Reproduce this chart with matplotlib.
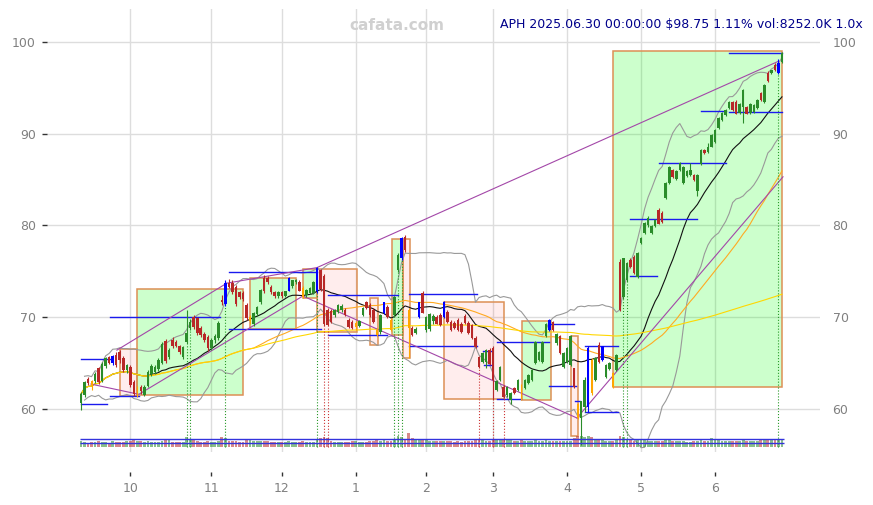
import numpy as np
import pandas as pd
import matplotlib
matplotlib.use("Agg")
import matplotlib.pyplot as plt
from matplotlib.patches import Rectangle

# ---------------- data ----------------
TICKER = "APH"
START, END = "2024-09-11", "2025-06-30"
HOLIDAYS = ["2024-11-28", "2024-12-25", "2025-01-01", "2025-01-09", "2025-01-20",
            "2025-02-17", "2025-04-18", "2025-05-26", "2025-06-19"]

opens = [
    60.6, 61.5, 63.2, 63.0, 63.0, 64.4, 63.0, 64.7, 65.6, 65.0,
    65.9, 66.2, 65.5, 64.2, 64.6, 62.9, 61.7, 62.4, 61.5, 62.5,
    63.8, 64.0, 64.3, 65.0, 67.4, 65.6, 67.5, 67.3, 66.8, 65.6,
    67.3, 68.8, 70.0, 69.9, 68.8, 68.2, 67.8, 66.6, 67.5, 67.7,
    71.9, 71.4, 73.7, 73.7, 73.3, 72.7, 72.6, 71.3, 69.6, 69.2,
    70.3, 71.6, 74.3, 74.3, 73.3, 72.7, 72.3, 72.7, 72.3, 72.9,
    73.4, 73.8, 73.8, 73.2, 72.4, 72.6, 72.6, 72.8, 75.1, 74.5,
    70.8, 70.7, 70.2, 70.6, 70.8, 70.8, 69.7, 69.5, 68.9, 69.0,
    70.2, 71.6, 71.3, 70.8, 68.6, 68.4, 70.4, 71.1, 69.7, 70.2,
    75.1, 76.4, 78.7, 70.8, 68.8, 68.3, 70.0, 72.6, 68.6, 68.7,
    69.6, 70.0, 70.2, 70.0, 70.6, 69.5, 69.4, 69.7, 69.3, 70.1,
    69.4, 69.1, 67.7, 65.6, 65.1, 65.1, 66.4, 66.6, 62.1, 63.1,
    62.4, 61.5, 61.0, 62.3, 62.0, 62.5, 62.3, 62.8, 63.1, 65.0,
    65.3, 65.1, 67.9, 68.6, 69.5, 67.2, 67.9, 64.6, 65.1, 64.8,
    64.4, 60.5, 59.0, 60.2, 60.2, 65.3, 63.1, 67.0, 65.3, 63.5,
    64.3, 63.9, 64.2, 76.0, 72.2, 74.0, 76.2, 76.6, 74.4, 78.1,
    79.2, 80.0, 79.2, 79.9, 81.7, 81.4, 83.0, 84.6, 86.0, 85.1,
    86.0, 84.6, 85.4, 85.5, 85.5, 83.7, 86.7, 88.2, 88.0, 88.6,
    89.1, 90.6, 91.5, 92.0, 92.8, 93.5, 93.5, 92.3, 92.9, 92.9,
    92.3, 92.4, 92.8, 94.4, 93.5, 96.6, 96.6, 97.5, 96.6, 97.85,
]
highs = [
    61.8, 63.0, 63.5, 63.1, 64.0, 64.6, 65.1, 65.7, 65.8, 65.9,
    66.2, 66.4, 65.8, 64.9, 64.8, 63.1, 62.5, 62.6, 62.6, 64.2,
    64.9, 64.8, 65.5, 67.3, 67.6, 66.6, 67.8, 67.5, 67.0, 66.9,
    70.8, 69.8, 70.2, 70.0, 69.0, 68.4, 68.0, 67.7, 68.2, 69.6,
    72.4, 74.0, 74.2, 74.0, 73.5, 72.9, 72.8, 71.5, 70.2, 70.6,
    71.2, 73.1, 74.6, 74.5, 73.5, 72.9, 72.9, 72.9, 72.9, 74.4,
    74.1, 74.2, 74.0, 73.4, 73.1, 73.3, 73.9, 75.5, 75.3, 74.7,
    71.0, 70.9, 70.9, 71.4, 71.4, 71.0, 69.9, 69.7, 69.6, 69.7,
    71.1, 71.8, 71.5, 71.0, 68.8, 70.3, 71.7, 71.3, 69.9, 72.3,
    77.0, 78.7, 78.9, 71.0, 69.0, 68.9, 71.7, 72.8, 70.1, 70.4,
    70.3, 70.2, 70.4, 71.8, 70.8, 69.7, 69.6, 69.9, 69.5, 70.3,
    69.6, 69.3, 67.9, 65.8, 66.2, 66.5, 66.6, 66.8, 63.1, 64.7,
    62.6, 62.5, 61.8, 62.4, 63.2, 62.7, 63.2, 63.8, 64.3, 67.4,
    66.3, 67.4, 69.4, 69.8, 69.6, 68.3, 68.0, 66.2, 66.7, 68.0,
    64.5, 60.6, 60.9, 63.5, 66.9, 65.5, 65.6, 67.3, 66.9, 64.9,
    65.1, 64.0, 66.0, 76.3, 76.5, 76.0, 76.4, 76.8, 77.1, 78.7,
    80.4, 81.0, 80.0, 80.7, 81.9, 81.6, 84.7, 86.5, 86.2, 86.0,
    86.9, 86.5, 86.0, 86.8, 85.6, 85.6, 88.3, 88.3, 89.0, 90.0,
    90.5, 91.8, 92.4, 92.7, 93.6, 93.6, 93.7, 93.3, 94.9, 93.0,
    93.4, 93.2, 93.8, 94.5, 95.4, 96.8, 97.0, 97.7, 98.1, 98.9,
]
lows = [
    59.9, 61.3, 62.6, 62.1, 62.8, 62.7, 62.9, 64.5, 64.9, 64.8,
    64.6, 65.0, 64.0, 63.9, 62.4, 61.4, 61.3, 61.6, 61.4, 62.4,
    63.6, 63.8, 64.1, 64.9, 65.0, 65.4, 66.6, 66.7, 66.0, 65.4,
    67.1, 68.6, 68.7, 68.1, 67.8, 67.3, 66.3, 66.4, 67.2, 67.5,
    71.3, 71.2, 73.2, 72.5, 71.2, 72.0, 71.8, 69.7, 69.2, 69.0,
    70.1, 71.4, 72.6, 73.6, 72.5, 72.1, 72.1, 72.1, 72.2, 72.8,
    73.2, 73.6, 72.8, 72.1, 72.2, 72.5, 72.5, 72.6, 72.9, 69.0,
    69.0, 69.4, 70.0, 70.4, 70.6, 70.1, 68.8, 68.7, 68.6, 68.9,
    70.1, 70.9, 70.0, 69.4, 67.9, 68.2, 70.3, 69.9, 68.5, 70.0,
    74.9, 76.2, 77.1, 65.5, 67.9, 68.2, 69.9, 70.4, 68.4, 68.5,
    69.3, 69.2, 69.0, 69.9, 69.4, 68.5, 68.7, 68.5, 68.3, 69.3,
    68.2, 67.6, 66.6, 64.5, 65.0, 64.4, 64.8, 61.0, 61.9, 63.0,
    61.2, 61.3, 60.5, 61.6, 61.9, 61.0, 62.2, 62.7, 63.0, 64.9,
    65.2, 65.0, 67.8, 68.5, 68.5, 67.0, 66.0, 64.5, 65.0, 64.7,
    62.3, 58.9, 56.0, 59.7, 59.6, 61.5, 63.0, 65.0, 65.2, 63.4,
    64.2, 62.3, 64.1, 70.7, 72.0, 73.8, 75.4, 74.7, 74.3, 78.0,
    79.1, 79.8, 79.1, 79.8, 80.1, 80.3, 82.9, 84.5, 85.2, 85.0,
    85.9, 84.5, 85.3, 85.4, 84.8, 83.2, 86.6, 87.8, 87.9, 88.5,
    89.0, 90.5, 91.4, 91.9, 92.7, 92.5, 92.1, 92.2, 91.2, 92.1,
    92.2, 92.3, 92.7, 93.6, 93.4, 95.6, 96.5, 96.8, 96.5, 97.7,
]
closes = [
    61.6, 62.9, 62.8, 62.6, 63.8, 62.9, 64.9, 65.5, 65.0, 65.8,
    64.8, 65.3, 64.2, 64.8, 62.6, 61.6, 62.4, 61.9, 62.4, 64.0,
    64.7, 64.6, 65.3, 67.1, 65.2, 66.4, 66.8, 66.9, 66.2, 66.7,
    68.3, 69.5, 68.9, 68.3, 68.0, 67.5, 66.6, 67.5, 67.9, 69.4,
    71.6, 73.7, 73.3, 72.7, 71.4, 72.2, 72.0, 69.9, 70.0, 70.5,
    71.1, 73.0, 72.8, 73.8, 72.7, 72.3, 72.7, 72.3, 72.8, 74.3,
    74.0, 74.0, 72.9, 72.2, 73.0, 73.2, 73.8, 75.4, 73.1, 69.2,
    69.1, 69.5, 70.8, 71.3, 71.2, 70.2, 68.9, 68.8, 69.4, 69.6,
    71.0, 71.0, 70.2, 69.5, 68.0, 70.2, 71.6, 70.0, 68.6, 72.2,
    76.8, 78.6, 77.3, 68.8, 68.0, 68.7, 71.6, 70.5, 70.0, 70.3,
    70.1, 69.3, 69.1, 71.7, 69.5, 68.6, 68.8, 68.6, 68.4, 69.4,
    68.3, 67.7, 66.7, 64.6, 66.1, 66.4, 64.9, 63.1, 63.0, 64.6,
    61.3, 62.4, 61.7, 61.7, 63.1, 61.2, 63.1, 63.7, 64.2, 67.3,
    66.2, 67.3, 69.3, 69.7, 68.6, 68.2, 66.1, 66.1, 66.6, 67.9,
    62.4, 59.0, 60.8, 63.1, 66.6, 61.7, 65.5, 65.1, 66.8, 64.8,
    65.0, 62.4, 65.9, 70.8, 76.4, 75.9, 75.5, 74.8, 77.0, 78.6,
    80.3, 80.8, 79.9, 80.6, 80.2, 80.4, 84.6, 86.4, 85.3, 85.9,
    86.8, 86.4, 85.9, 86.0, 84.9, 85.5, 88.2, 87.9, 88.6, 89.9,
    90.4, 91.7, 92.3, 92.6, 93.5, 92.6, 92.2, 93.2, 94.8, 92.2,
    93.2, 93.1, 93.7, 93.7, 95.3, 95.7, 96.9, 96.9, 97.67, 98.75,
]
volumes_k = [
    7200, 6100, 5200, 5400, 5800, 6500, 5600, 5900, 5000, 6800,
    6300, 5900, 6100, 6700, 7400, 8300, 7600, 6900, 6200, 6800,
    5900, 5400, 6000, 6600, 9800, 7700, 6400, 5600, 5900, 6300,
    11200, 9600, 7700, 6800, 6200, 6400, 6900, 6000, 5700, 6600,
    11400, 10200, 7500, 6700, 7200, 6300, 6100, 7900, 8200, 7000,
    6500, 6900, 7600, 6800, 6200, 5700, 5500, 5600, 5300, 6900,
    6000, 5400, 6100, 6600, 5800, 5400, 5900, 9600, 10800, 11600,
    10200, 7400, 6100, 5900, 5400, 5600, 6400, 6700, 6900, 5800,
    6300, 6200, 6800, 7100, 8000, 7300, 7800, 6900, 7400, 9900,
    12500, 11200, 9700, 16000, 10800, 8200, 8600, 8800, 7700, 7300,
    7000, 6800, 6600, 7500, 6900, 7100, 6400, 6600, 6300, 6700,
    6900, 7400, 7800, 9400, 7900, 7600, 7400, 9800, 8600, 8100,
    9300, 8200, 8700, 7400, 7100, 7700, 6900, 6800, 7200, 8400,
    7000, 7500, 8100, 7300, 6700, 7000, 7200, 6800, 7400, 7600,
    11000, 12600, 13400, 11800, 12900, 11400, 8800, 8100, 8300, 7000,
    6800, 7100, 7800, 12800, 11400, 9800, 8000, 7600, 8200, 8700,
    8100, 7600, 6900, 7200, 7000, 6600, 8600, 7900, 7100, 6800,
    6500, 6900, 6300, 6100, 6700, 7200, 8400, 7300, 7000, 11000,
    8400, 7800, 7300, 6900, 7400, 6800, 7100, 7600, 7900, 7300,
    6900, 7100, 7600, 9000, 8300, 8700, 7800, 8000, 8900, 8252,
]
blue_days = [9, 41, 59, 67, 86, 91, 96, 103, 133, 144, 148, 198]
orange_days = [3, 16, 48, 63, 78, 84, 88, 93, 125, 141, 145, 151]
signal_up = [30, 31, 41, 67, 89, 90, 91, 154, 155, 198]
signal_dn = [69, 70, 113, 117, 120]

# boxes: (start idx, end idx, low, high, kind)
boxes = [
    (11, 16, 61.4, 66.5, "dn"), (16, 46, 61.5, 73.1, "up"), (48, 61, 68.7, 74.3, "up"),
    (63, 67, 72.1, 75.3, "up"), (67, 78.3, 68.4, 75.3, "dn"), (82, 84.2, 67.0, 72.1, "dn"),
    (88.2, 91.5, 68.1, 78.5, "up"), (91.5, 93.5, 65.5, 78.5, "dn"), (103, 120, 61.1, 71.6, "dn"),
    (125.3, 133.3, 61.0, 69.6, "up"), (139, 141.2, 57.0, 67.9, "dn"), (151, 199, 62.35, 99.05, "up"),
]
# horizontal levels: (start idx, end idx, price)
levels = [
    (0, 7.4, 60.5), (0, 8.2, 65.4), (8.2, 39.5, 70.0), (8.2, 16.5, 61.4),
    (42, 68, 68.7), (42, 67, 74.9), (70, 87, 68.05), (70, 90, 72.4),
    (93, 112.3, 72.5), (93, 112.3, 66.85), (114, 116.5, 66.3), (114.3, 116.5, 64.8),
    (118, 133, 67.3), (118, 125, 61.1), (133, 140, 69.3), (133, 140.5, 62.5),
    (140.3, 141.7, 60.8), (143, 152.5, 66.9), (143, 152.5, 59.6),
    (156, 175, 80.7), (156, 163.4, 74.5), (164, 183, 86.8),
    (176, 183, 92.45), (184, 199, 92.35), (184, 199, 98.77),
]
# trend lines: (idx0, price0, idx1, price1)
trendlines = [
    (2.8, 62.7, 16.2, 61.6), (10.2, 66.4, 41.4, 73.7), (16.5, 61.6, 63, 72.3),
    (41.4, 73.7, 67, 75.4), (67, 75.4, 198, 97.9), (63, 72.3, 140.8, 59.0),
    (140.8, 59.0, 199.3, 85.3),
]
vol_lines_k = [9060, 4350]
LAST_VOL_RATIO = "1.0x"

# ---------------- layout constants ----------------
W, H = 873, 505
AX_L, AX_R, AX_T, AX_B = 47, 820, 9, 452
VOL_BASE_PX = 447
VOL_PX_PER_K = 0.00085  # pixels per 1K shares

dates = pd.bdate_range(START, END)
dates = dates[~dates.isin(pd.to_datetime(HOLIDAYS))]
n = len(closes)
assert len(dates) == n and len(opens) == n and len(highs) == n and len(lows) == n and len(volumes_k) == n
xs = np.arange(n)

o = np.array(opens); h = np.array(highs); l = np.array(lows); c = np.array(closes)
vol = np.array(volumes_k, dtype=float)

fig = plt.figure(figsize=(W / 100, H / 100), dpi=100)
ax = fig.add_axes([AX_L / W, 1 - AX_B / H, (AX_R - AX_L) / W, (AX_B - AX_T) / H])
ax.set_xlim(-9.65, 209.8)
ax.set_ylim(55.29, 103.6)

month_idx = [i for i in range(1, n) if dates[i].month != dates[i - 1].month]
ax.set_xticks(month_idx)
ax.set_xticklabels([str(dates[i].month) for i in month_idx])
yt = [60, 70, 80, 90, 100]
ax.set_yticks(yt)
ax.grid(True, color="#dddddd", lw=1)
ax.set_axisbelow(True)
for s in ax.spines.values():
    s.set_visible(False)
ax.spines["bottom"].set_position(("outward", 14.4))
ax.tick_params(axis="x", length=3, width=1, color="#333333", pad=4.5, labelsize=9, labelcolor="#808080")
ax.tick_params(axis="y", length=3.5, width=1, color="#333333", pad=4.5, labelsize=9, labelcolor="#808080")

# right labels
ax_r = ax.twinx()
ax_r.set_ylim(ax.get_ylim())
ax_r.set_yticks(yt)
for s in ax_r.spines.values():
    s.set_visible(False)
ax_r.tick_params(axis="y", length=0, pad=9, labelsize=9, labelcolor="#808080")

# boxes
for i0, i1, lo, hi, kind in boxes:
    fc = (0.0, 1.0, 0.0, 0.2) if kind == "up" else (1.0, 0.0, 0.0, 0.07)
    ax.add_patch(Rectangle((i0, lo), i1 - i0, hi - lo, facecolor=fc,
                           edgecolor="#dd9055", lw=1.1, zorder=1))

# indicators
s = pd.Series(c)
sma20 = s.rolling(20, min_periods=1).mean()
std20 = s.rolling(20, min_periods=2).std(ddof=0)
sma50 = s.rolling(50, min_periods=1).mean()
sma200 = s.rolling(200, min_periods=1).mean()
ax.plot(xs, sma20 + 2 * std20, color="#999999", lw=0.8, zorder=2)
ax.plot(xs, sma20 - 2 * std20, color="#999999", lw=0.8, zorder=2)
ax.plot(xs, sma20, color="#111111", lw=0.8, zorder=2)
ax.plot(xs, sma50, color="#ffaa22", lw=0.8, zorder=2)
ax.plot(xs, sma200, color="#ffd700", lw=0.8, zorder=2)

# levels and trend lines
for i0, i1, p in levels:
    ax.plot([i0, i1], [p, p], color="#1a1aee", lw=1, zorder=2.5)
for i0, p0, i1, p1 in trendlines:
    ax.plot([i0, i1], [p0, p1], color="#a347a8", lw=0.8, zorder=2.5)

# signal dotted lines
vbase_price = 55.29 + (AX_B - VOL_BASE_PX) / (AX_B - AX_T) * (103.6 - 55.29)
ax.vlines(signal_up, vbase_price, l[signal_up], colors="#2a9a2a", linestyles=":", lw=0.8, zorder=2.6)
ax.vlines(signal_dn, vbase_price, l[signal_dn], colors="#cc3333", linestyles=":", lw=0.8, zorder=2.6)

# candles
up = c >= o
cols = np.where(up, "#2a8c2a", "#b82828").astype(object)
widths = np.full(n, 0.72)
for i in blue_days:
    cols[i] = "#0000ff"
for i in orange_days:
    cols[i] = "#ffa500"
    widths[i] = 0.45
ax.vlines(xs, l, h, colors=list(cols), lw=0.8, zorder=3)
body = np.where(np.abs(c - o) < 0.08, 0.08, c - o)
ax.bar(xs, body, bottom=o, width=widths, color=list(cols), lw=0, zorder=4)

# volume (own axis, mapped into a thin strip at the bottom)
ax_v = ax.twinx()
for sp in ax_v.spines.values():
    sp.set_visible(False)
ax_v.set_yticks([])
ax_h_px = AX_B - AX_T
span = ax_h_px / VOL_PX_PER_K
f0 = (AX_B - VOL_BASE_PX) / ax_h_px
ax_v.set_ylim(-f0 * span, -f0 * span + span)
vcols = np.where(up, "#2a8c2a", "#b82828")
ax_v.bar(xs, vol, width=0.8, color=list(vcols), alpha=0.55, lw=0)
ax_v.hlines(vol_lines_k, -0.4, n - 0.5, colors="#3333dd", lw=1)
ax_v.set_xlim(ax.get_xlim())

# texts
pct = (c[-1] / c[-2] - 1) * 100
title = (f"{TICKER} {dates[-1].strftime('%Y.%m.%d')} 00:00:00 ${c[-1]:.2f} "
         f"{pct:.2f}% vol:{vol[-1]:.1f}K {LAST_VOL_RATIO}")
fig.text(397 / W, 1 - 25 / H, "cafata.com", ha="center", va="center",
         color="#d0d0d0", fontsize=11, fontweight="bold")
fig.text(863 / W, 1 - 25 / H, title, ha="right", va="center", color="#00008b", fontsize=9)

fig.savefig("out.png", dpi=100)
